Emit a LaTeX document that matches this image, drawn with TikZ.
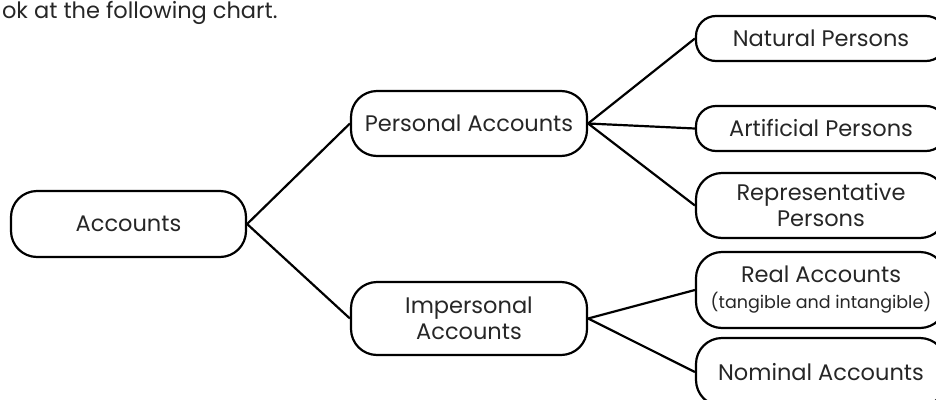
\documentclass[tikz,border=0pt]{standalone}
\usepackage{fontspec}
\setmainfont{Poppins}

\begin{document}
\begin{tikzpicture}[x=1pt, y=-1pt, every node/.style={rounded corners=26pt, draw=black, line width=2.2pt, inner sep=0pt, align=center, text=black!85, font=\fontsize{22.5}{26}\selectfont}, every path/.style={draw=black, line width=2.2pt}]
			\path[draw=none, use as bounding box] (0,0) rectangle (936,399);
			\node[draw=none, anchor=base west] (t) at (1,18){ok at the following chart.};
			
			\node[minimum width=235pt, minimum height=66pt] (a) at (128.5,224){Accounts};
			\node[minimum width=236pt, minimum height=65pt] (b) at (469,123.5){Personal Accounts};
			\node[minimum width=236pt, minimum height=73pt] (c) at (469,318.5){Impersonal\\Accounts};
			\node[minimum width=250pt, minimum height=45pt, rounded corners=20pt] (d) at (821,38.5){Natural Persons};
			\node[minimum width=250pt, minimum height=45pt, rounded corners=20pt] (e) at (821,128.5){Artificial Persons};
			\node[minimum width=250pt, minimum height=65pt] (f) at (821,205.5){Representative\\Persons};
			\node[minimum width=250pt, minimum height=76pt] (g) at (821,290){Real Accounts\\{\fontsize{17.5}{20}\selectfont (tangible and intangible)}};
			\node[minimum width=250pt, minimum height=68pt] (h) at (821,372){Nominal Accounts};
			
			\path (a.east) edge (b.west);
			\path (a.east) edge (c.west);
			\path (b.east) edge (d.west);
			\path (b.east) edge (e.west);
			\path (b.east) edge (f.west);
			\path (c.east) edge (g.west);
			\path (c.east) edge (h.west);
			\end{tikzpicture}
\end{document}
